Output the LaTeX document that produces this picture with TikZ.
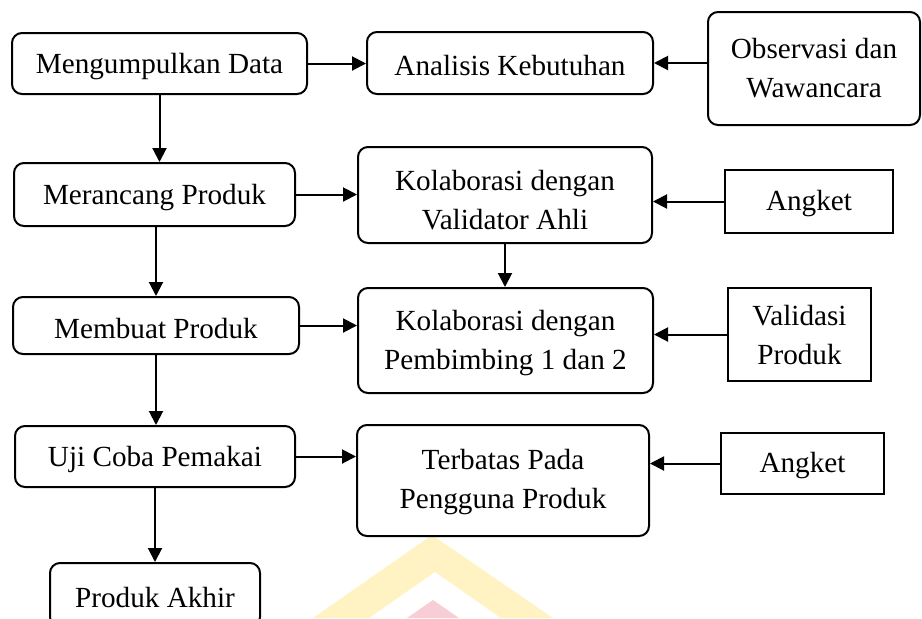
\documentclass[tikz,border=0pt]{standalone}
\usepackage{fontspec}
\setmainfont{Liberation Serif}
\usetikzlibrary{arrows.meta}
\definecolor{wmyellow}{RGB}{255,243,196}
\definecolor{wmpink}{RGB}{247,206,214}
\newcommand{\myup}[1]{\rule{0pt}{#1pt}}
\begin{document}
\begin{tikzpicture}[x=0.5pt,y=-0.5pt,
  every node/.style={font=\fontsize{14.6}{19.5}\selectfont, align=center, inner sep=0pt, line width=1pt},
  rbox/.style={draw, rounded corners=5pt},
  sbox/.style={draw},
  conn/.style={line width=1pt, -{Triangle[length=7pt,width=7pt]}}]
\useasboundingbox (0,0) rectangle (922,618);
\clip (0,0) rectangle (922,618);
% watermark
\fill[wmyellow, even odd rule] (432,535) -- (313,618) -- (553,618) -- cycle
  (435,572) -- (369,618) -- (501,618) -- cycle;
\fill[wmpink] (433,600) -- (407,618) -- (459,618) -- cycle;
% nodes
\node[rbox, minimum width=147.5pt, minimum height=30.5pt] (mk) at (159.5,63.5) {\myup{13}Mengumpulkan Data};
\node[rbox, minimum width=143pt, minimum height=31pt] (ak) at (510,63) {\myup{13}Analisis Kebutuhan};
\node[rbox, minimum width=106pt, minimum height=56.5pt] (ow) at (814,68.5) {Observasi dan\\Wawancara};
\node[rbox, minimum width=140.5pt, minimum height=31.5pt] (mr) at (154.5,194.5) {\myup{13}Merancang Produk};
\node[rbox, minimum width=147pt, minimum height=48pt] (kv) at (505,195) {\myup{15}Kolaborasi dengan\\Validator Ahli};
\node[sbox, minimum width=84pt, minimum height=31.5pt] (a1) at (809,201.5) {\myup{12}Angket};
\node[rbox, minimum width=143pt, minimum height=28.5pt] (mb) at (156,325.5) {\myup{13}Membuat Produk};
\node[rbox, minimum width=147.5pt, minimum height=52.5pt] (kp) at (505.5,340.5) {\myup{13}Kolaborasi dengan\\Pembimbing 1 dan 2};
\node[sbox, minimum width=71.5pt, minimum height=46.5pt] (vp) at (799.5,334.5) {\myup{11}Validasi\\Produk};
\node[rbox, minimum width=140pt, minimum height=30.5pt] (uc) at (155,456.5) {\myup{13}Uji Coba Pemakai};
\node[rbox, minimum width=146pt, minimum height=55.5pt] (tp) at (503,480.5) {\myup{12}Terbatas Pada\\Pengguna Produk};
\node[sbox, minimum width=81.5pt, minimum height=30.5pt] (a2) at (802.5,463.5) {\myup{12}Angket};
\node[rbox, minimum width=105pt, minimum height=32pt] (pa) at (155,595) {\myup{13}Produk Akhir};
% connectors
\draw[conn] (mk.east) -- (mk.east -| ak.west);
\draw[conn] (ak.east -| ow.west) -- (ak.east);
\draw[conn] (mk.south) -- (mk.south |- mr.north);
\draw[conn] (mr.east) -- (mr.east -| kv.west);
\draw[conn] (a1.west) -- (a1.west -| kv.east);
\draw[conn] (mr.south -| mb.north) -- (mb.north);
\draw[conn] (kv.south) -- (kv.south |- kp.north);
\draw[conn] (mb.east) -- (mb.east -| kp.west);
\draw[conn] (vp.west) -- (vp.west -| kp.east);
\draw[conn] (mb.south) -- (mb.south |- uc.north);
\draw[conn] (uc.east) -- (uc.east -| tp.west);
\draw[conn] (a2.west) -- (a2.west -| tp.east);
\draw[conn] (uc.south) -- (uc.south |- pa.north);
\end{tikzpicture}
\end{document}
